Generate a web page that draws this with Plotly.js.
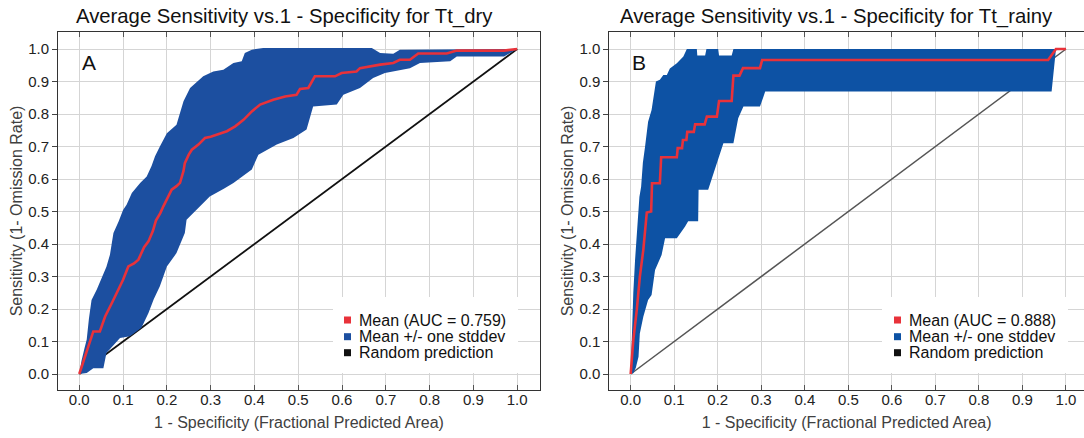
<!DOCTYPE html>
<html>
<head>
<meta charset="utf-8">
<script src="https://cdn.plot.ly/plotly-3.0.1.min.js"></script>
<style>
  html, body { margin: 0; padding: 0; background: #ffffff; }
  #chart { width: 1084px; height: 438px; }
</style>
</head>
<body>
<div id="chart"></div>
<script>
// ---- Tt_dry: averaged ROC curve with +/- one standard deviation envelope ----
const dryMeanX  = [0, 0.013, 0.032, 0.047, 0.059, 0.075, 0.089, 0.100, 0.112, 0.125, 0.135, 0.148, 0.158, 0.168, 0.175, 0.185, 0.192, 0.200, 0.211, 0.222, 0.230, 0.238, 0.241, 0.250, 0.257, 0.272, 0.287, 0.300, 0.314, 0.337, 0.356, 0.375, 0.394, 0.413, 0.443, 0.470, 0.496, 0.504, 0.523, 0.538, 0.584, 0.599, 0.633, 0.641, 0.687, 0.717, 0.732, 0.755, 0.774, 0.839, 0.862, 0.970, 1.0];
const dryMeanY  = [0, 0.054, 0.131, 0.131, 0.177, 0.220, 0.259, 0.290, 0.331, 0.340, 0.352, 0.390, 0.408, 0.440, 0.472, 0.495, 0.516, 0.536, 0.567, 0.578, 0.588, 0.625, 0.649, 0.675, 0.690, 0.706, 0.726, 0.730, 0.736, 0.747, 0.762, 0.782, 0.808, 0.829, 0.844, 0.854, 0.859, 0.877, 0.880, 0.916, 0.916, 0.926, 0.931, 0.941, 0.952, 0.957, 0.967, 0.967, 0.986, 0.986, 0.995, 0.995, 1.0];
const dryUpperX = [0, 0.005, 0.012, 0.017, 0.022, 0.028, 0.040, 0.051, 0.062, 0.070, 0.078, 0.090, 0.100, 0.108, 0.120, 0.139, 0.154, 0.165, 0.173, 0.184, 0.200, 0.222, 0.230, 0.238, 0.253, 0.283, 0.306, 0.329, 0.352, 0.371, 0.378, 0.394, 0.420, 0.668, 0.687, 0.717, 0.732, 1.0];
const dryUpperY = [0, 0.040, 0.080, 0.106, 0.170, 0.228, 0.260, 0.295, 0.330, 0.367, 0.434, 0.470, 0.505, 0.521, 0.557, 0.588, 0.608, 0.640, 0.670, 0.700, 0.741, 0.767, 0.800, 0.839, 0.880, 0.916, 0.931, 0.936, 0.957, 0.962, 0.988, 0.998, 1.003, 1.003, 0.988, 0.985, 0.998, 1.0];
const dryLowerX = [0, 0.017, 0.032, 0.055, 0.062, 0.080, 0.093, 0.116, 0.130, 0.142, 0.158, 0.170, 0.184, 0.200, 0.222, 0.241, 0.245, 0.268, 0.298, 0.330, 0.352, 0.394, 0.409, 0.451, 0.489, 0.519, 0.534, 0.588, 0.603, 0.641, 0.671, 0.698, 0.755, 0.778, 0.847, 0.862, 0.970, 1.0];
const dryLowerY = [0, 0.003, 0.018, 0.018, 0.065, 0.090, 0.111, 0.116, 0.130, 0.142, 0.188, 0.230, 0.270, 0.331, 0.372, 0.434, 0.475, 0.506, 0.546, 0.570, 0.588, 0.629, 0.675, 0.706, 0.726, 0.752, 0.823, 0.829, 0.859, 0.880, 0.911, 0.926, 0.941, 0.957, 0.962, 0.977, 0.977, 1.0];
const dryAuc = 0.759;

// ---- Tt_rainy ----
const rainyMeanX  = [0, 0.006, 0.014, 0.021, 0.029, 0.037, 0.047, 0.049, 0.067, 0.070, 0.106, 0.108, 0.118, 0.120, 0.128, 0.130, 0.145, 0.148, 0.170, 0.175, 0.198, 0.203, 0.232, 0.236, 0.250, 0.258, 0.297, 0.302, 0.959, 0.977, 1.0];
const rainyMeanY  = [0, 0.105, 0.197, 0.299, 0.382, 0.497, 0.500, 0.587, 0.587, 0.667, 0.667, 0.695, 0.695, 0.720, 0.720, 0.745, 0.745, 0.768, 0.768, 0.792, 0.792, 0.840, 0.840, 0.918, 0.918, 0.941, 0.941, 0.966, 0.966, 1.0, 1.0];
const rainyUpperX = [0, 0.002, 0.006, 0.010, 0.014, 0.020, 0.024, 0.028, 0.033, 0.037, 0.040, 0.048, 0.052, 0.058, 0.067, 0.075, 0.083, 0.090, 0.106, 0.121, 0.129, 0.152, 0.153, 0.171, 0.174, 0.201, 0.203, 0.232, 0.236, 1.0];
const rainyUpperY = [0, 0.105, 0.250, 0.350, 0.443, 0.545, 0.576, 0.650, 0.699, 0.740, 0.776, 0.812, 0.853, 0.900, 0.905, 0.920, 0.920, 0.940, 0.956, 0.977, 1.0, 1.0, 0.980, 0.980, 1.0, 1.0, 0.980, 0.980, 1.0, 1.0];
const rainyLowerX = [0, 0.006, 0.012, 0.018, 0.021, 0.029, 0.040, 0.048, 0.056, 0.071, 0.079, 0.106, 0.125, 0.132, 0.155, 0.156, 0.178, 0.198, 0.213, 0.236, 0.247, 0.259, 0.297, 0.305, 0.309, 0.967, 0.977, 1.0];
const rainyLowerY = [0, 0.002, 0.020, 0.053, 0.125, 0.176, 0.228, 0.243, 0.320, 0.366, 0.418, 0.418, 0.454, 0.470, 0.470, 0.567, 0.567, 0.653, 0.710, 0.710, 0.787, 0.823, 0.823, 0.853, 0.869, 0.869, 1.0, 1.0];
const rainyAuc = 0.888;

// Reference line for a random classifier
const randomX = [0, 1];
const randomY = [0, 1];

const axisTicks = [0, 0.1, 0.2, 0.3, 0.4, 0.5, 0.6, 0.7, 0.8, 0.9, 1.0];
const legendLabels = ['Mean (AUC = ', 'Mean +/- one stddev', 'Random prediction'];

const RED = '#e8323a';
const BLUE_DRY = '#1c4fa0';
const BLUE_RAINY = '#0d52a4';
const FONT = 'Liberation Sans, Arial, Helvetica, sans-serif';

function panelTraces(xa, ya, mx, my, ux, uy, lx, ly, band, diagColor, diagWidth) {
  return [
    { x: randomX, y: randomY, xaxis: xa, yaxis: ya, mode: 'lines', name: 'Random prediction',
      line: { color: diagColor, width: diagWidth }, showlegend: false, hoverinfo: 'skip' },
    { x: lx, y: ly, xaxis: xa, yaxis: ya, mode: 'lines', name: 'Mean - one stddev',
      line: { width: 0, color: band }, showlegend: false, hoverinfo: 'skip' },
    { x: ux, y: uy, xaxis: xa, yaxis: ya, mode: 'lines', name: 'Mean +/- one stddev',
      line: { width: 0, color: band }, fill: 'tonexty', fillcolor: band, showlegend: false, hoverinfo: 'skip' },
    { x: mx, y: my, xaxis: xa, yaxis: ya, mode: 'lines', name: 'Mean',
      line: { color: RED, width: 2.6 }, showlegend: false }
  ];
}

const data = [].concat(
  panelTraces('x', 'y', dryMeanX, dryMeanY, dryUpperX, dryUpperY, dryLowerX, dryLowerY, BLUE_DRY, '#111111', 1.8),
  panelTraces('x2', 'y2', rainyMeanX, rainyMeanY, rainyUpperX, rainyUpperY, rainyLowerX, rainyLowerY, BLUE_RAINY, '#555555', 1.5)
);

function xAxis(domain, range, anchor) {
  return {
    domain: domain, range: range, anchor: anchor, automargin: false,
    tickmode: 'array', tickvals: axisTicks, tickformat: '.1f',
    ticks: 'inside', ticklen: 5, tickwidth: 1, tickcolor: '#555555',
    showline: true, linecolor: '#333333', linewidth: 1, mirror: 'ticks',
    showgrid: true, gridcolor: '#d5d5d5', gridwidth: 1, zeroline: false,
    ticklabelstandoff: -4,
    tickfont: { family: FONT, size: 15, color: '#222222' },
    title: { text: '1 - Specificity (Fractional Predicted Area)', standoff: 9,
             font: { family: FONT, size: 16, color: '#404040' } }
  };
}
function yAxis(anchor) {
  return {
    domain: [0, 1], range: [-0.0492, 1.0523], anchor: anchor, automargin: false,
    tickmode: 'array', tickvals: axisTicks, tickformat: '.1f',
    ticks: 'outside', ticklen: 5, tickwidth: 1, tickcolor: '#444444',
    showline: true, linecolor: '#333333', linewidth: 1, mirror: true,
    showgrid: true, gridcolor: '#d5d5d5', gridwidth: 1, zeroline: false,
    tickfont: { family: FONT, size: 15, color: '#222222' },
    title: { text: 'Sensitivity (1- Omission Rate)', standoff: 1,
             font: { family: FONT, size: 16, color: '#404040' } }
  };
}

// Legend drawn inside each panel: white box, colour squares, labels
function legendItems(xr, yr, box, sqX, sqHalfW, textX, aucValue) {
  const rowsY = [0.1955, 0.1489, 0.1042];
  const colors = [RED, xr === 'x domain' ? BLUE_DRY : BLUE_RAINY, '#111111'];
  const labels = [legendLabels[0] + aucValue.toFixed(3) + ')', legendLabels[1], legendLabels[2]];
  const shapes = [{ type: 'rect', xref: xr, yref: yr, x0: box[0], x1: box[1], y0: box[2], y1: box[3],
                    fillcolor: '#ffffff', line: { width: 0 }, layer: 'above' }];
  const anns = [];
  rowsY.forEach((ry, i) => {
    shapes.push({ type: 'rect', xref: xr, yref: yr, x0: sqX - sqHalfW, x1: sqX + sqHalfW,
                  y0: ry - 0.0098, y1: ry + 0.0098, fillcolor: colors[i], line: { width: 0 }, layer: 'above' });
    anns.push({ xref: xr, yref: yr, x: textX, y: ry, xanchor: 'left', yanchor: 'middle',
                text: labels[i], showarrow: false, font: { family: FONT, size: 16, color: '#111111' } });
  });
  return { shapes, anns };
}

const legDry = legendItems('x domain', 'y domain', [0.5705, 0.9544, 0.0475, 0.2598], 0.6006, 0.00726, 0.6210, dryAuc);
const legRainy = legendItems('x2 domain', 'y2 domain', [0.5745, 0.9663, 0.0475, 0.2598], 0.6071, 0.00737, 0.6265, rainyAuc);

const annotations = [
  { xref: 'paper', yref: 'paper', x: 0.2208, y: 1.0419, xanchor: 'center', yanchor: 'middle', showarrow: false,
    text: 'Average Sensitivity vs.1 - Specificity for Tt_dry', font: { family: FONT, size: 20.3, color: '#111111' } },
  { xref: 'paper', yref: 'paper', x: 0.759, y: 1.0419, xanchor: 'center', yanchor: 'middle', showarrow: false,
    text: 'Average Sensitivity vs.1 - Specificity for Tt_rainy', font: { family: FONT, size: 20.3, color: '#111111' } },
  { xref: 'x domain', yref: 'y domain', x: 0.0457, y: 0.952, xanchor: 'left', yanchor: 'top', showarrow: false,
    text: 'A', font: { family: FONT, size: 21, color: '#111111' } },
  { xref: 'x2 domain', yref: 'y2 domain', x: 0.0444, y: 0.952, xanchor: 'left', yanchor: 'top', showarrow: false,
    text: 'B', font: { family: FONT, size: 21, color: '#111111' } }
].concat(legDry.anns, legRainy.anns);

const layout = {
  width: 1084, height: 438,
  margin: { l: 58, r: 0, t: 32, b: 48, pad: 0 },
  paper_bgcolor: '#ffffff', plot_bgcolor: '#ffffff',
  showlegend: false,
  font: { family: FONT, color: '#222222' },
  xaxis: xAxis([0, 0.4698], [-0.0486, 1.0521], 'y'),
  yaxis: yAxis('x'),
  xaxis2: xAxis([0.5373, 1], [-0.0492, 1.0414], 'y2'),
  yaxis2: yAxis('x2'),
  shapes: legDry.shapes.concat(legRainy.shapes),
  annotations: annotations
};

Plotly.newPlot('chart', data, layout, { staticPlot: true, displayModeBar: false });
</script>
</body>
</html>
